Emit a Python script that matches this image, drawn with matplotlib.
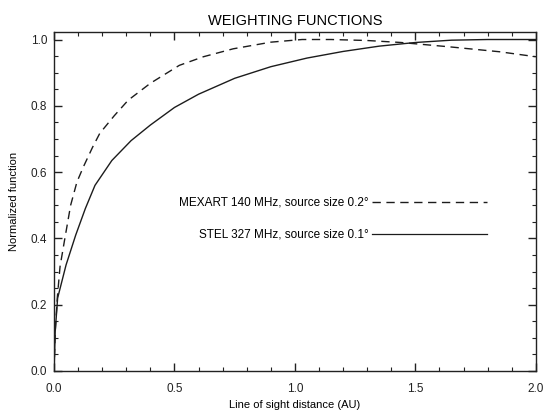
import matplotlib
matplotlib.use("Agg")
import matplotlib.pyplot as plt
from matplotlib.ticker import MultipleLocator

plt.rcParams['font.family'] = ['Liberation Sans', 'DejaVu Sans']

# Data
stel_x = [0.0, 0.005, 0.015, 0.05, 0.09, 0.13, 0.17, 0.24, 0.32, 0.40, 0.50, 0.60,
          0.75, 0.90, 1.05, 1.20, 1.35, 1.50, 1.65, 1.80, 2.0]
stel_y = [0.0, 0.12, 0.22, 0.32, 0.41, 0.49, 0.56, 0.635, 0.695, 0.742, 0.795, 0.835,
          0.883, 0.918, 0.944, 0.964, 0.980, 0.991, 0.998, 1.0, 1.0]

mex_x = [0.0, 0.005, 0.014, 0.025, 0.045, 0.069, 0.095, 0.122, 0.16, 0.19, 0.25, 0.308,
         0.40, 0.52, 0.62, 0.744, 0.90, 1.03, 1.15, 1.30, 1.44, 1.64, 1.85, 2.0]
mex_y = [0.0, 0.12, 0.224, 0.315, 0.40, 0.50, 0.57, 0.616, 0.675, 0.717, 0.77, 0.817,
         0.868, 0.922, 0.948, 0.972, 0.992, 1.0, 1.0, 0.997, 0.991, 0.978, 0.963, 0.948]

mex_label = "MEXART 140 MHz, source size 0.2°"
stel_label = "STEL 327 MHz, source size 0.1°"
title = "WEIGHTING FUNCTIONS"
xlabel = "Line of sight distance (AU)"
ylabel = "Normalized function"

fig = plt.figure(figsize=(5.44, 4.13), dpi=100)
ax = fig.add_axes([0.0993, 0.1017, 0.8857, 0.8215])

lc = '#1c1c1c'
ax.plot(mex_x, mex_y, color=lc, lw=1.0, dashes=(6, 4))
ax.plot(stel_x, stel_y, color=lc, lw=1.0)

ax.set_xlim(0, 2.0)
ax.set_ylim(0, 1.0235)
ax.xaxis.set_major_locator(MultipleLocator(0.5))
ax.xaxis.set_minor_locator(MultipleLocator(0.1))
ax.yaxis.set_major_locator(MultipleLocator(0.2))
ax.yaxis.set_minor_locator(MultipleLocator(0.05))
ax.set_xticks([0, 0.5, 1.0, 1.5, 2.0])
ax.set_xticklabels(['0.0', '0.5', '1.0', '1.5', '2.0'])
ax.set_yticks([0, 0.2, 0.4, 0.6, 0.8, 1.0])
ax.set_yticklabels(['0.0', '0.2', '0.4', '0.6', '0.8', '1.0'])

ax.tick_params(which='both', direction='in', top=True, right=True, colors='#222222',
               labelsize=8.5)
ax.tick_params(which='major', length=6, width=1.0)
ax.tick_params(which='minor', length=3, width=0.8)
ax.tick_params(axis='x', which='major', pad=9)
ax.tick_params(axis='y', which='major', pad=5)
for s in ax.spines.values():
    s.set_linewidth(1.0)
    s.set_color('#222222')

ax.set_title(title, fontsize=10.5, pad=5)
ax.set_xlabel(xlabel, fontsize=8, labelpad=3)
ax.set_ylabel(ylabel, fontsize=8, labelpad=8)

# legend drawn manually
tx = (369 - 54) / 482
l0 = (372 - 54) / 482
l1 = (487 - 54) / 482
y1 = (371 - 202) / 339.3
y2 = (371 - 234) / 339.3
ax.text(tx, y1, mex_label, transform=ax.transAxes, ha='right', va='center', fontsize=8.5)
ax.plot([l0, l1], [y1, y1], transform=ax.transAxes, color=lc, lw=1.0, dashes=(6, 4))
ax.text(tx, y2, stel_label, transform=ax.transAxes, ha='right', va='center', fontsize=8.5)
ax.plot([l0, l1], [y2, y2], transform=ax.transAxes, color=lc, lw=0.9)

fig.savefig('out.png', dpi=100)
